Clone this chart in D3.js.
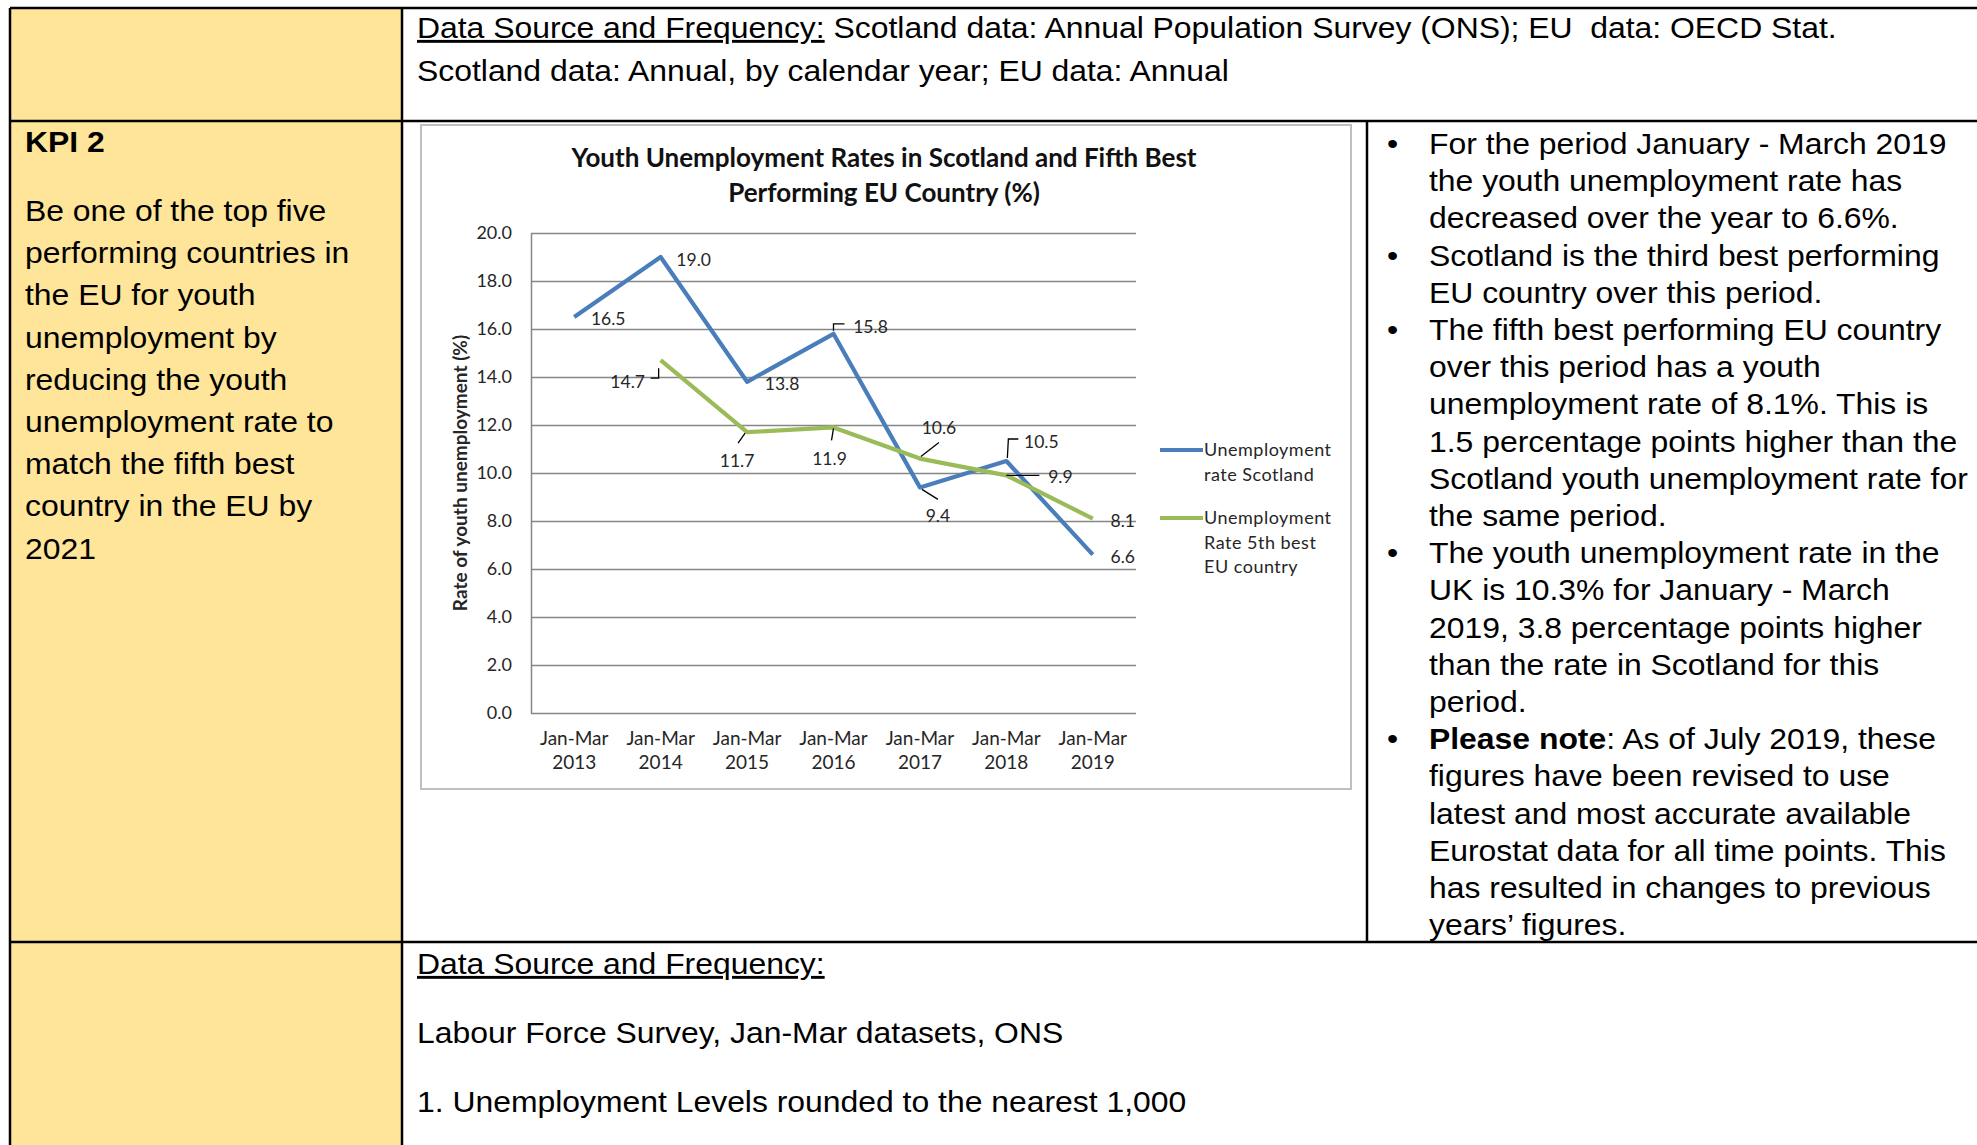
<!DOCTYPE html>
<html>
<head>
<meta charset="utf-8">
<script src="https://d3js.org/d3.v7.min.js"></script>
<style>
    body { margin: 0; background: #fff; }
    svg { display: block; }
    .doc { font-family: "Liberation Sans", Arial, sans-serif; font-size: 29px; fill: #000; white-space: pre; }
    .chart text { font-family: Lato, "Open Sans", sans-serif; }
</style>
</head>
<body>
<svg id="page" width="1977" height="1145"></svg>

<script>
    // chart data
    const categories = ["Jan-Mar 2013", "Jan-Mar 2014", "Jan-Mar 2015", "Jan-Mar 2016", "Jan-Mar 2017", "Jan-Mar 2018", "Jan-Mar 2019"];
    const scotland = [16.5, 19.0, 13.8, 15.8, 9.4, 10.5, 6.6];
    const euFifth = [null, 14.7, 11.7, 11.9, 10.6, 9.9, 8.1];
    const yTicks = [0, 2, 4, 6, 8, 10, 12, 14, 16, 18, 20];
    const chartTitle = ["Youth Unemployment Rates in Scotland and Fifth Best", "Performing EU Country (%)"];
    const yTitle = "Rate of youth unemployment (%)";
    const legendScot = ["Unemployment", "rate Scotland"];
    const legendEu = ["Unemployment", "Rate 5th best", "EU country"];

    // page text
    const sourceTop = ["Scotland data: Annual Population Survey (ONS); EU  data: OECD Stat.", "Scotland data: Annual, by calendar year; EU data: Annual"];
    const kpiTitle = "KPI 2";
    const kpiLines = ["Be one of the top five", "performing countries in", "the EU for youth", "unemployment by",
        "reducing the youth", "unemployment rate to", "match the fifth best", "country in the EU by", "2021"];
    const bullets = [
        ["For the period January - March 2019", "the youth unemployment rate has", "decreased over the year to 6.6%."],
        ["Scotland is the third best performing", "EU country over this period."],
        ["The fifth best performing EU country", "over this period has a youth", "unemployment rate of 8.1%. This is",
            "1.5 percentage points higher than the", "Scotland youth unemployment rate for", "the same period."],
        ["The youth unemployment rate in the", "UK is 10.3% for January - March", "2019, 3.8 percentage points higher",
            "than the rate in Scotland for this", "period."],
        ["|Please note|: As of July 2019, these", "figures have been revised to use", "latest and most accurate available",
            "Eurostat data for all time points. This", "has resulted in changes to previous", "years’ figures."]
    ];
    const sourceBottom = ["Labour Force Survey, Jan-Mar datasets, ONS", "1. Unemployment Levels rounded to the nearest 1,000"];

    // label placement (offsets from the point) and leader lines
    const scotLabelPos = [[34, 8], [33, 9], [35, 8], [37, -1], [18, 35], [35, -13], [30, 8]];
    const scotLeaders = [null, null, null, [[0, -3], [0, -10], [11, -10]], [[2, 2], [18, 12]], [[1, -3], [2, -22], [12, -22]], null];
    const euLabelPos = [null, [-33, 28], [-10, 35], [-4, 38], [19, -25], [54, 8], [30, 8]];
    const euLeaders = [null, [[-2, 8], [-2, 18], [-10, 18]], [[-2, 1], [-9, 11]], [[0, 1], [-2, 13]], [[1, -2], [19, -16]], [[0, 0], [33, 0]], null];

    const svg = d3.select("#page");
    const W = 1977, H = 1145;
    const stretch = 1.1;

    // ----- table background and borders -----
    svg.append("rect").attr("width", W).attr("height", H).attr("fill", "#fff");
    svg.append("rect").attr("x", 10).attr("y", 8).attr("width", 392).attr("height", H).attr("fill", "#ffe599");

    const borders = [[10, 8, W, 8], [10, 8, 10, H], [402, 8, 402, H], [10, 121, W, 121], [10, 942, W, 942], [1367, 121, 1367, 942]];
    svg.append("g").selectAll("line").data(borders).enter().append("line")
        .attr("x1", d => d[0]).attr("y1", d => d[1]).attr("x2", d => d[2]).attr("y2", d => d[3])
        .attr("stroke", "#000").attr("stroke-width", 2.5);

    function docText(x, y) {
        return svg.append("text").attr("class", "doc").attr("transform", `translate(${x},${y}) scale(${stretch},1)`);
    }

    // top row
    let t = docText(417, 38);
    t.append("tspan").attr("text-decoration", "underline").text("Data Source and Frequency:");
    t.append("tspan").text(" " + sourceTop[0]);
    docText(417, 81).text(sourceTop[1]);

    // KPI column
    docText(25, 152).attr("font-weight", "bold").text(kpiTitle);
    kpiLines.forEach((s, i) => docText(25, 221 + i * 42.2).text(s));

    // bullets
    let line = 0;
    bullets.forEach(item => {
        docText(1387, 154 + line * 37.2).text("•");
        item.forEach(s => {
            const tx = docText(1429, 154 + line * 37.2);
            s.split("|").forEach((part, k) => {
                if (part) tx.append("tspan").attr("font-weight", k === 1 ? "bold" : null).text(part);
            });
            line++;
        });
    });

    // bottom row
    docText(417, 974).append("tspan").attr("text-decoration", "underline").text("Data Source and Frequency:");
    sourceBottom.forEach((s, i) => docText(417, 1043 + i * 69).text(s));

    // ----- chart -----
    const chart = svg.append("g").attr("class", "chart");
    chart.append("rect").attr("x", 421).attr("y", 125).attr("width", 930).attr("height", 664)
        .attr("fill", "#fff").attr("stroke", "#bfbfbf").attr("stroke-width", 2);

    const x = d3.scaleBand().domain(categories).range([531, 1136]);
    const y = d3.scaleLinear().domain([0, 20]).range([713, 233]);
    const cx = i => x(categories[i]) + x.bandwidth() / 2;

    chart.selectAll(".title").data(chartTitle).enter().append("text")
        .attr("x", 884).attr("y", (d, i) => 167 + i * 35)
        .attr("text-anchor", "middle").attr("font-weight", "bold").attr("font-size", 26).attr("fill", "#111")
        .text(d => d);

    const yAxis = chart.append("g").attr("transform", "translate(531,0)")
        .call(d3.axisLeft(y).tickValues(yTicks).tickFormat(d3.format(".1f")).tickSize(-605).tickSizeOuter(0).tickPadding(19));
    yAxis.select(".domain").attr("stroke", "#868686").attr("stroke-width", 1.5);
    yAxis.selectAll(".tick line").attr("stroke", "#868686").attr("stroke-width", 1.5);
    yAxis.selectAll(".tick text").attr("font-size", 18).attr("fill", "#262626").attr("font-family", "Lato");

    const xAxis = chart.append("g").attr("transform", "translate(0,713)")
        .call(d3.axisBottom(x).tickSize(0).tickPadding(0));
    xAxis.select(".domain").remove();
    xAxis.selectAll(".tick text").each(function (d) {
        const el = d3.select(this).text(null).attr("font-size", 19).attr("fill", "#262626").attr("font-family", "Lato").attr("dy", null);
        d.split(" ").forEach((p, i) => el.append("tspan").attr("x", 0).attr("y", 32 + i * 24).text(p));
    });

    chart.append("text")
        .attr("transform", "translate(467,473) rotate(-90)")
        .attr("text-anchor", "middle").attr("font-weight", "bold").attr("font-size", 19).attr("fill", "#262626")
        .text(yTitle);

    const lineGen = d3.line().defined(d => d != null).x((d, i) => cx(i)).y(d => y(d));
    const series = [
        { values: scotland, color: "#4a7ebb", pos: scotLabelPos, leaders: scotLeaders },
        { values: euFifth, color: "#9bbb59", pos: euLabelPos, leaders: euLeaders }
    ];

    series.forEach(s => {
        chart.append("path").datum(s.values)
            .attr("d", lineGen).attr("fill", "none").attr("stroke", s.color)
            .attr("stroke-width", 4.2).attr("stroke-linejoin", "round");
    });

    // data labels and leader lines
    series.forEach(s => {
        s.values.forEach((v, i) => {
            if (v == null) return;
            const px = cx(i), py = y(v);
            if (s.leaders[i]) {
                chart.append("path")
                    .attr("d", d3.line()(s.leaders[i].map(p => [px + p[0], py + p[1]])))
                    .attr("fill", "none").attr("stroke", "#000").attr("stroke-width", 1.3);
            }
            chart.append("text")
                .attr("x", px + s.pos[i][0]).attr("y", py + s.pos[i][1])
                .attr("text-anchor", "middle").attr("font-size", 17.5).attr("fill", "#262626")
                .text(d3.format(".1f")(v));
        });
    });

    // legend
    const legend = [{ names: legendScot, color: "#4a7ebb", y: 450 }, { names: legendEu, color: "#9bbb59", y: 518 }];
    legend.forEach(l => {
        chart.append("line").attr("x1", 1160).attr("x2", 1203).attr("y1", l.y).attr("y2", l.y)
            .attr("stroke", l.color).attr("stroke-width", 4.2);
        l.names.forEach((n, i) => chart.append("text")
            .attr("x", 1204).attr("y", l.y + 6 + i * 24.5)
            .attr("font-size", 18).attr("letter-spacing", 0.5).attr("fill", "#262626").text(n));
    });
</script>
</body>
</html>
